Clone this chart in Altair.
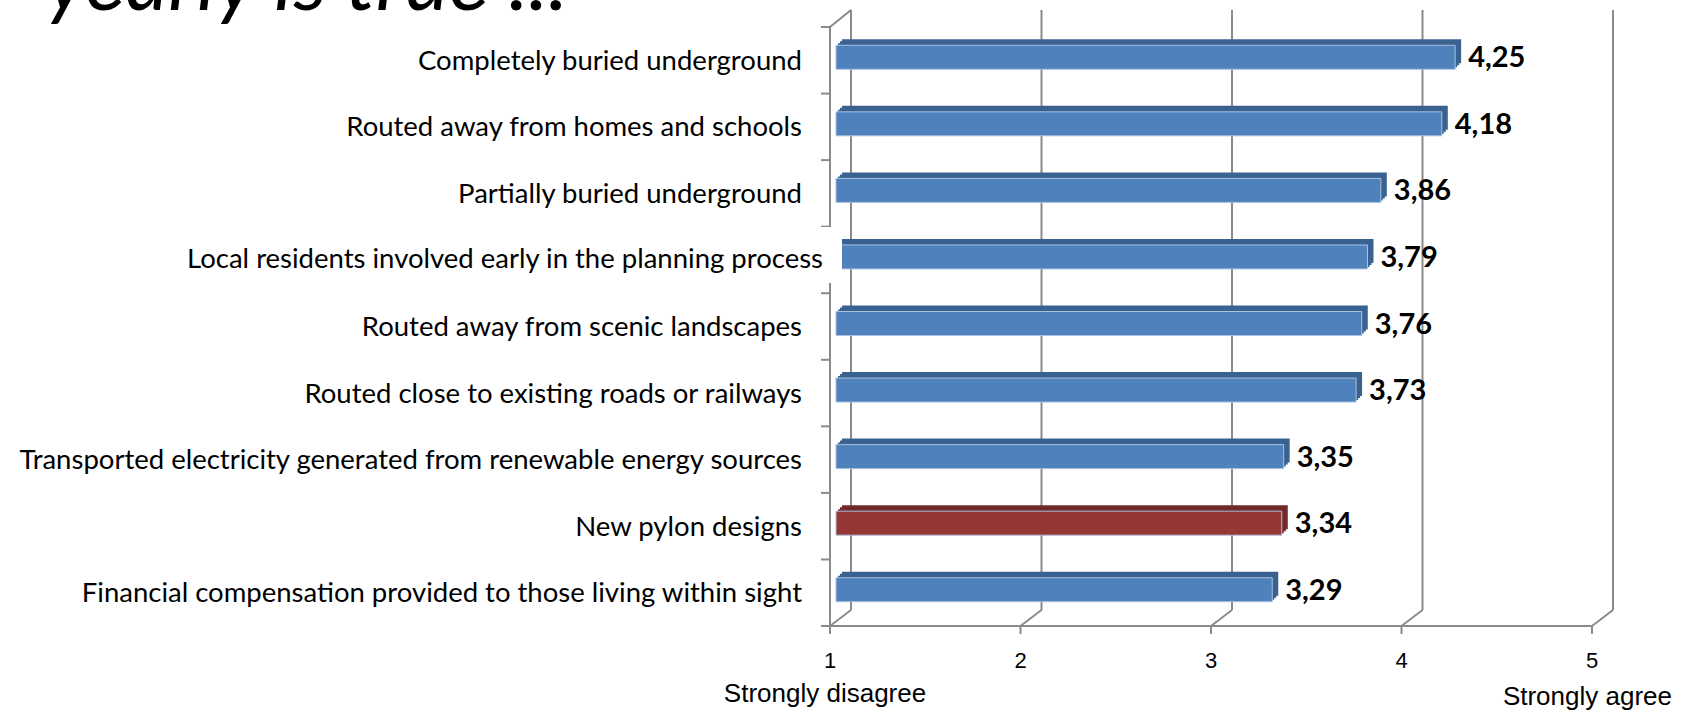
import altair as alt
import pandas as pd

# ---- data ----
labels = [
    "Completely buried underground",
    "Routed away from homes and schools",
    "Partially buried underground",
    "Local residents involved early in the planning process",
    "Routed away from scenic landscapes",
    "Routed close to existing roads or railways",
    "Transported electricity generated from renewable energy sources\u00a0",
    "New pylon designs\u00a0\u00a0",
    "Financial compensation provided to those living within sight",
]
values = [4.25, 4.18, 3.86, 3.79, 3.76, 3.73, 3.35, 3.34, 3.29]
highlight = "New pylon designs\u00a0\u00a0"
shifted = "Local residents involved early in the planning process"
ticks = [1, 2, 3, 4, 5]
end_labels = ["Strongly disagree", "Strongly agree"]
title_text = "yearly is true ..."

bars = pd.DataFrame({"label": labels, "value": values})
tick_df = pd.DataFrame({"tick": ticks})

xs = alt.Scale(domain=[1, 5], range=[830, 1592], nice=False, zero=False)
ys = alt.Scale(domain=labels, range=[27, 626], paddingInner=0, paddingOuter=0)

GRID = "#8a8a8a"
BLUE, BLUE_D = "#4f81bd", "#3a6291"
RED, RED_D = "#953735", "#72292a"

X = lambda f: alt.X(f, scale=xs, axis=None)
Y = alt.Y("label:N", scale=ys, axis=None, sort=labels)
is_hi = alt.datum.label == highlight

base_t = alt.Chart(tick_df)
base_b = alt.Chart(bars)

# back wall verticals
wall = base_t.mark_rule(color=GRID, strokeWidth=2, xOffset=21).encode(
    x=X("tick:Q"), y=alt.value(10), y2=alt.value(610))
# floor diagonals
diag = base_t.mark_rule(color=GRID, strokeWidth=2, x2Offset=21).encode(
    x=X("tick:Q"), x2="tick:Q", y=alt.value(626), y2=alt.value(610))
top_diag = base_t.transform_filter(alt.datum.tick == 1).mark_rule(
    color=GRID, strokeWidth=2, x2Offset=21).encode(
    x=X("tick:Q"), x2="tick:Q", y=alt.value(27), y2=alt.value(10))
floor = base_t.transform_filter(alt.datum.tick == 1).mark_rule(
    color=GRID, strokeWidth=2, xOffset=-9).encode(
    x=X("tick:Q"), x2=alt.datum(5), y=alt.value(626))
floor_ticks = base_t.mark_rule(color=GRID, strokeWidth=2).encode(
    x=X("tick:Q"), y=alt.value(626), y2=alt.value(634))
left_axis = base_t.transform_filter(alt.datum.tick == 1).mark_rule(
    color=GRID, strokeWidth=2).encode(
    x=X("tick:Q"), y=alt.value(27), y2=alt.value(626))
left_ticks = base_b.mark_rule(color=GRID, strokeWidth=2, xOffset=-9).encode(
    x=alt.X(datum=1, scale=xs, axis=None), x2=alt.datum(1),
    y=alt.Y("label:N", scale=ys, axis=None, sort=labels, bandPosition=0))

layers = [wall, diag, top_diag, floor, floor_ticks, left_axis, left_ticks]

# 3D bevel (stacked offsets) then front face
for k in (2, 4, 6):
    layers.append(base_b.mark_bar(height=24, xOffset=6 + k, x2Offset=6 + k,
                                  yOffset=-3 - k).encode(
        x=X("value:Q"), x2=alt.datum(1), y=Y,
        color=alt.when(is_hi).then(alt.value(RED_D)).otherwise(alt.value(BLUE_D))))
layers.append(base_b.mark_bar(height=24, xOffset=6, x2Offset=6, yOffset=-3,
                              stroke="#a9c1df", strokeWidth=1).encode(
    x=X("value:Q"), x2=alt.datum(1), y=Y,
    color=alt.when(is_hi).then(alt.value(RED)).otherwise(alt.value(BLUE))))

# white label box covering the axis on the shifted row
layers.append(base_b.transform_filter(alt.datum.label == shifted).mark_bar(
    height=56, yOffset=-5, xOffset=-700, x2Offset=12, color="white",
    opacity=1).encode(
    x=alt.X(datum=1, scale=xs, axis=None), x2=alt.X2(datum=1), y=Y))

FONT = "Lato"
LFS = 27.5
layers.append(base_b.transform_filter(alt.datum.label != shifted).mark_text(
    align="right", baseline="middle", font=FONT, fontSize=LFS, xOffset=-28,
    yOffset=1.5, color="black").encode(
    x=alt.X(datum=1, scale=xs, axis=None), y=Y, text="label:N"))
layers.append(base_b.transform_filter(alt.datum.label == shifted).mark_text(
    align="right", baseline="middle", font=FONT, fontSize=LFS, xOffset=-7,
    yOffset=0, color="black").encode(
    x=alt.X(datum=1, scale=xs, axis=None), y=Y, text="label:N"))

# value labels
layers.append(base_b.transform_calculate(
    txt="replace(format(datum.value, '.2f'), '.', ',')").mark_text(
    align="left", baseline="middle", font=FONT, fontWeight="bold", fontSize=29,
    xOffset=19, yOffset=-2, color="black").encode(
    x=X("value:Q"), y=Y, text="txt:N"))

# x tick labels
layers.append(base_t.mark_text(font="Liberation Sans", fontSize=22,
                               baseline="middle", color="black").encode(
    x=X("tick:Q"), y=alt.value(661), text="tick:Q"))

end_df = pd.DataFrame({"txt": end_labels, "pos": [ticks[0], ticks[-1]]})
layers.append(alt.Chart(end_df).transform_filter(alt.datum.pos == 1).mark_text(
    font="Liberation Sans", fontSize=26, baseline="middle", align="center",
    xOffset=-5, color="black").encode(
    x=X("pos:Q"), y=alt.value(694), text="txt:N"))
layers.append(alt.Chart(end_df).transform_filter(alt.datum.pos == 5).mark_text(
    font="Liberation Sans", fontSize=26, baseline="middle", align="right",
    xOffset=80, color="black").encode(
    x=X("pos:Q"), y=alt.value(697), text="txt:N"))

# cut-off slide title
layers.append(base_t.transform_filter(alt.datum.tick == 1).mark_text(
    align="left", baseline="alphabetic", font=FONT, fontStyle="italic",
    fontSize=84, color="black").encode(
    x=alt.value(46), y=alt.value(10), text=alt.value(title_text)))

chart = alt.layer(*layers).properties(
    width=1692, height=712,
    autosize=alt.AutoSizeParams(type="none"),
    padding=0, background="white",
).configure_view(stroke=None)

chart.save("out.html", embed_options={"renderer": "svg", "actions": False})
